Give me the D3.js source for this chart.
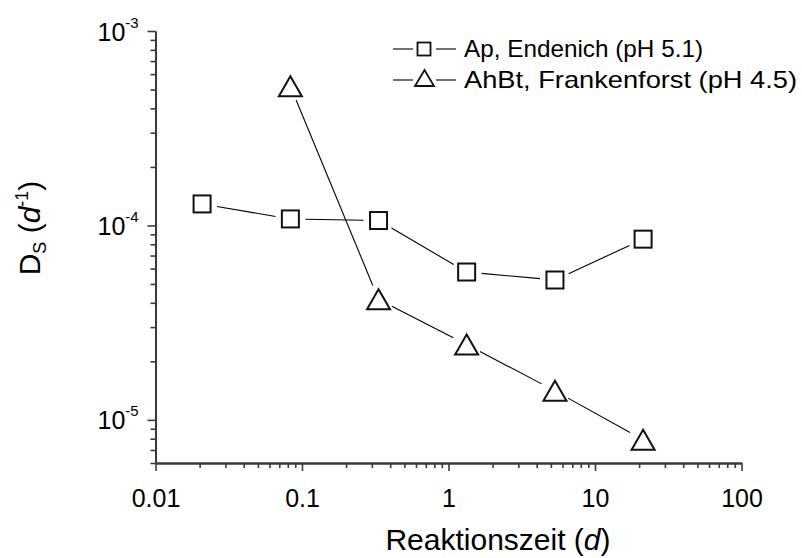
<!DOCTYPE html>
<html>
<head>
<meta charset="utf-8">
<script src="https://cdn.jsdelivr.net/npm/d3@7/dist/d3.min.js"></script>
<style>
  html, body { margin: 0; padding: 0; background: #fff; }
  svg { display: block; font-family: "Liberation Sans", Arial, Helvetica, sans-serif; }
</style>
</head>
<body>
<svg id="chart" width="802" height="558"></svg>
<script>
// Reaction time in days
const apTimes = [0.0208, 0.0833, 0.333, 1.33, 5.33, 21.3];
const ahbtTimes = [0.0833, 0.333, 1.33, 5.33, 21.3];
// Diffusion/sorption rate coefficient D_S in 1/d
const apEndenich = [1.29e-4, 1.08e-4, 1.06e-4, 5.76e-5, 5.24e-5, 8.5e-5];
const ahbtFrankenforst = [5.2e-4, 4.17e-5, 2.44e-5, 1.41e-5, 7.9e-6];
// Axis ticks
const xTicks = [0.01, 0.1, 1, 10, 100];
const xTickLabels = ["0.01", "0.1", "1", "10", "100"];
const yTicks = [1e-5, 1e-4, 1e-3];
const yTickExponents = ["-5", "-4", "-3"];
const seriesNames = ["Ap, Endenich (pH 5.1)", "AhBt, Frankenforst (pH 4.5)"];

const svg = d3.select("#chart");
const plotLeft = 155.5, plotRight = 741.5, plotTop = 31, plotBottom = 463;

const x = d3.scaleLog().domain([0.01, 100]).range([plotLeft, plotRight]);
const y = d3.scaleLog().domain([6e-6, 1e-3]).range([plotBottom, plotTop]);

const axisColor = "#3a3a3a";

// minor ticks
const xMinor = [];
for (let e = -2; e < 2; e++) for (let m = 2; m <= 9; m++) xMinor.push(m * Math.pow(10, e));
const yMinor = [6e-6, 7e-6, 8e-6, 9e-6];
for (let e = -5; e < -3; e++) for (let m = 2; m <= 9; m++) yMinor.push(m * Math.pow(10, e));

function styleAxis(g) {
  g.select(".domain").attr("stroke", axisColor).attr("stroke-width", 2);
  g.selectAll(".tick line").attr("stroke", axisColor).attr("stroke-width", 1.6);
}

// x axis
svg.append("g").attr("transform", `translate(0,${plotBottom})`)
  .call(d3.axisBottom(x).tickValues(xMinor).tickSize(5).tickFormat("").tickSizeOuter(0))
  .call(styleAxis);
const gx = svg.append("g").attr("transform", `translate(0,${plotBottom})`)
  .call(d3.axisBottom(x).tickValues(xTicks).tickSize(8).tickSizeOuter(0)
    .tickFormat((d, i) => xTickLabels[i]))
  .call(styleAxis);
gx.selectAll(".tick text")
  .attr("y", 44).attr("dy", null)
  .attr("fill", "#000").style("font-size", "25px")
  .style("font-family", "'Liberation Sans', Arial, sans-serif");

// y axis
svg.append("g").attr("transform", `translate(${plotLeft},0)`)
  .call(d3.axisLeft(y).tickValues(yMinor).tickSize(5).tickFormat("").tickSizeOuter(0))
  .call(styleAxis);
const gy = svg.append("g").attr("transform", `translate(${plotLeft},0)`)
  .call(d3.axisLeft(y).tickValues(yTicks).tickSize(8).tickSizeOuter(0).tickFormat(""))
  .call(styleAxis);
gy.selectAll(".tick").each(function (d, i) {
  const t = d3.select(this).select("text")
    .attr("x", -58).attr("dy", null).attr("y", 9)
    .attr("text-anchor", "start")
    .attr("fill", "#000").style("font-size", "25px")
    .style("font-family", "'Liberation Sans', Arial, sans-serif");
  t.text("");
  t.append("tspan").text("10");
  t.append("tspan").attr("dy", -13).style("font-size", "15px").text(yTickExponents[i]);
});

// series lines with gaps around markers
function drawGappedLine(xs, ys, gap) {
  const pts = xs.map((d, i) => [x(d), y(ys[i])]);
  for (let i = 0; i < pts.length - 1; i++) {
    const [x1, y1] = pts[i], [x2, y2] = pts[i + 1];
    const len = Math.hypot(x2 - x1, y2 - y1);
    const ux = (x2 - x1) / len, uy = (y2 - y1) / len;
    svg.append("line")
      .attr("x1", x1 + ux * gap).attr("y1", y1 + uy * gap)
      .attr("x2", x2 - ux * gap).attr("y2", y2 - uy * gap)
      .attr("stroke", "#000").attr("stroke-width", 1.1);
  }
}
drawGappedLine(apTimes, apEndenich, 15);
drawGappedLine(ahbtTimes, ahbtFrankenforst, 15);

function trianglePath(w, h) {
  return `M0,${-h / 2}L${w / 2},${h / 2}L${-w / 2},${h / 2}Z`;
}

// markers
svg.append("g").selectAll("rect").data(apTimes).join("rect")
  .attr("x", d => x(d) - 8.5).attr("y", (d, i) => y(apEndenich[i]) - 8.5)
  .attr("width", 17).attr("height", 17)
  .attr("fill", "none").attr("stroke", "#111").attr("stroke-width", 2);

svg.append("g").selectAll("path").data(ahbtTimes).join("path")
  .attr("transform", (d, i) => `translate(${x(d)},${y(ahbtFrankenforst[i])})`)
  .attr("d", trianglePath(23, 20))
  .attr("fill", "none").attr("stroke", "#111").attr("stroke-width", 2);

// legend
const legend = svg.append("g");
const rows = [{ y: 49, shape: "square", width: 239 }, { y: 80, shape: "triangle", width: 333 }];
rows.forEach((r, i) => {
  legend.append("line").attr("x1", 393).attr("x2", 413).attr("y1", r.y).attr("y2", r.y)
    .attr("stroke", "#000").attr("stroke-width", 1.1);
  legend.append("line").attr("x1", 436).attr("x2", 456).attr("y1", r.y).attr("y2", r.y)
    .attr("stroke", "#000").attr("stroke-width", 1.1);
  if (r.shape === "square") {
    legend.append("rect").attr("x", 417.5).attr("y", r.y - 6.5).attr("width", 13).attr("height", 13)
      .attr("fill", "none").attr("stroke", "#111").attr("stroke-width", 1.8);
  } else {
    legend.append("path").attr("transform", `translate(424.5,${r.y - 2})`)
      .attr("d", trianglePath(19, 16))
      .attr("fill", "none").attr("stroke", "#111").attr("stroke-width", 1.8);
  }
  legend.append("text").attr("x", 464).attr("y", r.y + 8)
    .attr("textLength", r.width).attr("lengthAdjust", "spacingAndGlyphs")
    .style("font-size", "24px").attr("fill", "#000").text(seriesNames[i]);
});

// axis titles
const xt = svg.append("text").attr("x", 498).attr("y", 550)
  .attr("text-anchor", "middle").style("font-size", "30px").attr("fill", "#000");
xt.append("tspan").text("Reaktionszeit (");
xt.append("tspan").style("font-style", "italic").text("d");
xt.append("tspan").text(")");

const yt = svg.append("text")
  .attr("transform", "translate(40,228) rotate(-90)")
  .attr("text-anchor", "middle").style("font-size", "30px").attr("fill", "#000");
yt.append("tspan").text("D");
yt.append("tspan").attr("dy", 6).style("font-size", "18px").text("S");
yt.append("tspan").attr("dy", -6).text(" (");
yt.append("tspan").style("font-style", "italic").text("d");
yt.append("tspan").attr("dy", -12).style("font-size", "18px").text("-1");
yt.append("tspan").attr("dy", 12).text(")");
</script>
</body>
</html>
